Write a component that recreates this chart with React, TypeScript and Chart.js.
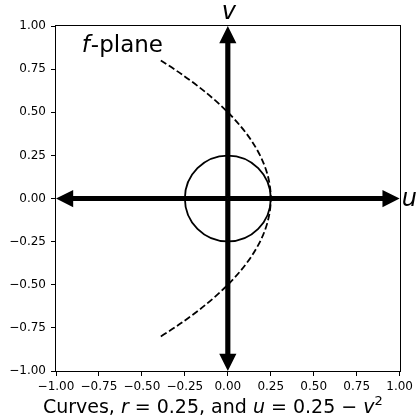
import { useEffect, useRef } from "react";
import { Chart, registerables } from "chart.js";

Chart.register(...registerables);

// Axis range and ticks
const axisMin = -1;
const axisMax = 1;
const tickStep = 0.25;

// Circle r = 0.25 centred on the origin
const circleCenter = [0, 0];
const circleRadius = 0.25;

// Parabola u = 0.25 - v^2 for v in [-0.8, 0.8], given as a quadratic Bezier (u, v)
const parabolaStart = [-0.39, -0.8];
const parabolaControl = [0.89, 0];
const parabolaEnd = [-0.39, 0.8];

// Axis arrows from the origin
const arrowOrigin = [0, 0];
const arrowTips = [
  [1, 0],
  [-1, 0],
  [0, 1],
  [0, -1],
];
const arrowShaftWidth = 0.03;
const arrowHeadWidth = 0.1;
const arrowHeadLength = 0.1;

// Text labels
const planeLabelPos = [-0.85, 0.85];
const uLabelPos = [1.0, 0];
const vLabelPos = [0, 1.0];

const FONT = "'DejaVu Sans', 'Liberation Sans', sans-serif";

function fmt(v: number) {
  const s = Math.abs(v).toFixed(2);
  return v < -1e-9 ? "\u2212" + s : s;
}

const drawPlugin = {
  id: "drawPlugin",
  afterDraw(chart: any) {
    const ctx: CanvasRenderingContext2D = chart.ctx;
    const xs = chart.scales.x;
    const ys = chart.scales.y;
    const px = (u: number) => xs.getPixelForValue(u);
    const py = (v: number) => ys.getPixelForValue(v);
    const area = chart.chartArea;

    ctx.save();

    // arrows
    ctx.fillStyle = "#000";
    for (const tip of arrowTips) {
      const dx = tip[0] - arrowOrigin[0];
      const dy = tip[1] - arrowOrigin[1];
      const len = Math.hypot(dx, dy);
      const ux = dx / len;
      const uy = dy / len;
      const nx = -uy;
      const ny = ux;
      const bx = tip[0] - ux * arrowHeadLength;
      const by = tip[1] - uy * arrowHeadLength;
      const w = arrowShaftWidth / 2;
      const hw = arrowHeadWidth / 2;
      const pts = [
        [arrowOrigin[0] + nx * w, arrowOrigin[1] + ny * w],
        [bx + nx * w, by + ny * w],
        [bx + nx * hw, by + ny * hw],
        [tip[0], tip[1]],
        [bx - nx * hw, by - ny * hw],
        [bx - nx * w, by - ny * w],
        [arrowOrigin[0] - nx * w, arrowOrigin[1] - ny * w],
      ];
      ctx.beginPath();
      pts.forEach((p, i) => {
        if (i === 0) ctx.moveTo(px(p[0]), py(p[1]));
        else ctx.lineTo(px(p[0]), py(p[1]));
      });
      ctx.closePath();
      ctx.fill();
    }

    // circle
    ctx.strokeStyle = "#000";
    ctx.lineWidth = 1.8;
    ctx.setLineDash([]);
    ctx.beginPath();
    const cx = px(circleCenter[0]);
    const cy = py(circleCenter[1]);
    const rr = px(circleCenter[0] + circleRadius) - cx;
    ctx.arc(cx, cy, rr, 0, Math.PI * 2);
    ctx.stroke();

    // parabola
    ctx.setLineDash([6.6, 2.9]);
    ctx.beginPath();
    ctx.moveTo(px(parabolaStart[0]), py(parabolaStart[1]));
    ctx.quadraticCurveTo(
      px(parabolaControl[0]),
      py(parabolaControl[1]),
      px(parabolaEnd[0]),
      py(parabolaEnd[1])
    );
    ctx.stroke();
    ctx.setLineDash([]);

    // frame
    ctx.lineWidth = 1;
    ctx.strokeStyle = "#000";
    ctx.strokeRect(
      Math.round(area.left) - 0.5,
      Math.round(area.top) - 0.5,
      Math.round(area.right - area.left) + 1,
      Math.round(area.bottom - area.top) + 1
    );

    // labels
    ctx.fillStyle = "#000";
    ctx.textBaseline = "alphabetic";
    // f-plane
    ctx.textAlign = "left";
    let x0 = px(planeLabelPos[0]);
    const y0 = py(planeLabelPos[1]);
    ctx.font = `italic 23px ${FONT}`;
    ctx.fillText("f", x0, y0);
    x0 += ctx.measureText("f").width + 1;
    ctx.font = `23px ${FONT}`;
    ctx.fillText("-plane", x0, y0);

    // v label
    ctx.font = `italic 24px ${FONT}`;
    ctx.textAlign = "center";
    ctx.fillText("v", px(vLabelPos[0]) + 1, py(vLabelPos[1]) - 7);
    // u label
    ctx.textAlign = "left";
    ctx.fillText("u", px(uLabelPos[0]) + 2, py(uLabelPos[1]) + 7);

    // title (x label)
    const segs: { t: string; it?: boolean; sup?: boolean }[] = [
      { t: "Curves, " },
      { t: "r", it: true },
      { t: " = 0.25, and " },
      { t: "u", it: true },
      { t: " = 0.25 \u2212 " },
      { t: "v", it: true },
      { t: "2", sup: true },
    ];
    const size = 19;
    const fontFor = (s: any) =>
      s.sup ? `${Math.round(size * 0.7)}px ${FONT}` : `${s.it ? "italic " : ""}${size}px ${FONT}`;
    let total = 0;
    for (const s of segs) {
      ctx.font = fontFor(s);
      total += ctx.measureText(s.t).width;
    }
    let tx = (area.left + area.right) / 2 - 15 - total / 2;
    const ty = 413;
    ctx.textAlign = "left";
    for (const s of segs) {
      ctx.font = fontFor(s);
      ctx.fillText(s.t, tx, s.sup ? ty - 8 : ty);
      tx += ctx.measureText(s.t).width;
    }

    ctx.restore();
  },
};

export default function App() {
  const ref = useRef<HTMLCanvasElement>(null);
  useEffect(() => {
    if (!ref.current) return;
    const scaleCommon = (axis: "x" | "y") => ({
      type: "linear" as const,
      min: axisMin,
      max: axisMax,
      border: { display: false },
      grid: {
        display: true,
        drawOnChartArea: false,
        drawTicks: true,
        tickLength: 5,
        color: "#000",
        lineWidth: 1,
      },
      ticks: {
        stepSize: tickStep,
        color: "#000",
        padding: axis === "y" ? 5 : 4,
        font: { family: FONT, size: 12 },
        callback: (v: any) => fmt(Number(v)),
        maxRotation: 0,
        autoSkip: false,
      },
      afterFit: (s: any) => {
        if (axis === "y") s.width = 56;
        else s.height = 46;
      },
    });
    const chart = new Chart(ref.current, {
      type: "scatter",
      data: { datasets: [] },
      options: {
        responsive: false,
        animation: false,
        layout: { padding: { top: 26, right: 16, left: 0, bottom: 0 } },
        plugins: { legend: { display: false }, tooltip: { enabled: false } },
        scales: { x: scaleCommon("x"), y: scaleCommon("y") },
      },
      plugins: [drawPlugin],
    });
    return () => chart.destroy();
  }, []);
  return (
    <div style={{ position: "absolute", left: 0, top: 0, width: 417, height: 417, background: "#fff" }}>
      <canvas ref={ref} width={417} height={417} />
    </div>
  );
}
